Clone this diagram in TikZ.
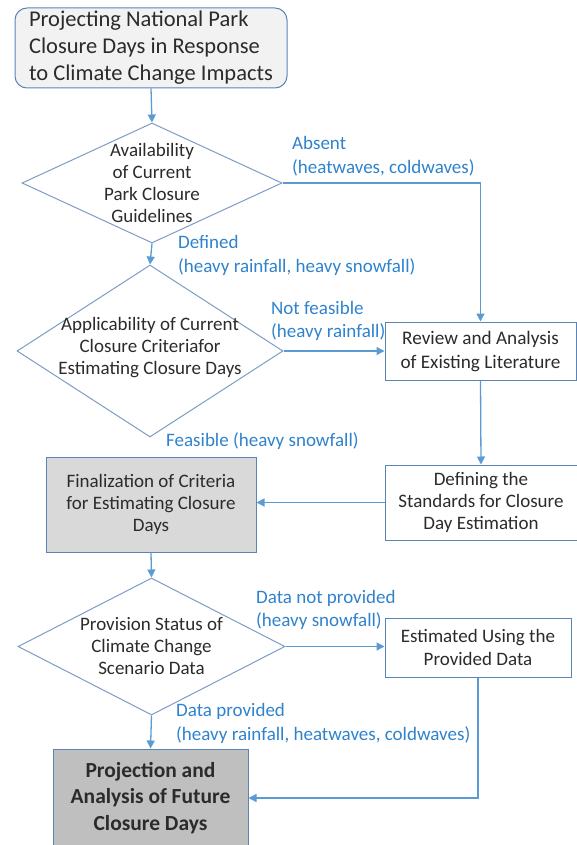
\documentclass[tikz,border=0pt]{standalone}
\usepackage{fontspec}
\setmainfont{Carlito}
\usetikzlibrary{shapes.geometric,arrows.meta}
\definecolor{lineblue}{HTML}{5B9BD5}
\definecolor{edgeblue}{HTML}{5A84B8}
\definecolor{dedge}{HTML}{7E9DC6}
\definecolor{lblblue}{HTML}{2F82CC}
\definecolor{txt}{HTML}{2B2B2B}
\definecolor{titlefill}{HTML}{F2F2F2}
\definecolor{finfill}{HTML}{D9D9D9}
\definecolor{projfill}{HTML}{BFBFBF}
\tikzset{
  conn/.style={draw=lineblue, line width=1.3pt, -{Triangle[length=8pt,width=8pt]}},
  box/.style={draw=edgeblue, line width=1pt, inner sep=0pt, text=txt, align=center,
    font=\fontsize{19}{22}\selectfont},
  dia/.style={diamond, draw=dedge, line width=1pt, inner sep=0pt, fill=white},
  dtext/.style={text=txt, align=center, font=\fontsize{19}{22}\selectfont, inner sep=0pt},
  lbl/.style={text=lblblue, align=left, anchor=west, inner sep=0pt,
    font=\fontsize{19}{23.5}\selectfont}
}
\begin{document}
\begin{tikzpicture}[x=1pt,y=-1pt]
\useasboundingbox (0,0) rectangle (577,845);
\begin{scope}
\clip (0,0) rectangle (577,845);
% title
\node[box, draw=edgeblue, fill=titlefill, rounded corners=12pt, minimum width=272pt, minimum height=80pt,
  align=left, font=\fontsize{22.5}{27}\selectfont] (title) at (151,48)
  {Projecting National Park\\Closure Days in Response\\to Climate Change Impacts};
% diamonds
\node[dia, minimum width=260pt, minimum height=120pt] (d1) at (152,183) {};
\node[dtext] (d1t) at (d1) {Availability\\of Current\\Park Closure\\Guidelines};
\node[dia, minimum width=266pt, minimum height=172pt] (d2) at (150,351) {};
\node[dtext] (d2t) at (150,348) {Applicability of Current\\Closure Criteriafor\\Estimating Closure Days};
\node[dia, minimum width=267pt, minimum height=137pt] (d3) at (151.5,646.5) {};
\node[dtext] (d3t) at (d3) {Provision Status of\\Climate Change\\Scenario Data};
% boxes
\node[box, minimum width=191pt, minimum height=58pt, font=\fontsize{19.2}{24}\selectfont] (rev) at (480.5,351)
  {Review and Analysis\\of Existing Literature};
\node[box, minimum width=192pt, minimum height=75pt] (def) at (481,502.5)
  {Defining the\\Standards for Closure\\Day Estimation};
\node[box, fill=finfill, minimum width=210pt, minimum height=95pt] (fin) at (151,504.5)
  {Finalization of Criteria\\for Estimating Closure\\Days};
\node[box, minimum width=186pt, minimum height=59pt, font=\fontsize{19}{23}\selectfont] (est) at (478,647.5)
  {Estimated Using the\\Provided Data};
\node[box, fill=projfill, minimum width=195pt, minimum height=98pt,
  font=\fontsize{21.5}{26.5}\selectfont\bfseries] (proj) at (150.5,798)
  {Projection and\\Analysis of Future\\Closure Days};
% connectors
\draw[conn] (title.south) -- (d1.north);
\draw[conn] (d1.east) -| (rev.north);
\draw[conn] (d1.south) -- (d2.north);
\draw[conn] (d2.east) -- (rev.west);
\draw[conn] (rev.south) -- (def.north);
\draw[conn] (def.west) -- (def.west -| fin.east);
\draw[conn] (fin.south) -- (d3.north);
\draw[conn] (d3.east) -- (d3.east -| est.west);
\draw[conn] (est.south) |- (proj.east);
\draw[conn] (d3.south) -- (proj.north);
% labels
\node[lbl] (l1) at (292,156) {Absent\\(heatwaves, coldwaves)};
\node[lbl] (l2) at (178,255.5) {Defined\\(heavy rainfall, heavy snowfall)};
\node[lbl] (l3) at (271,321) {Not feasible\\(heavy rainfall)};
\node[lbl] (l4) at (166,441) {Feasible (heavy snowfall)};
\node[lbl] (l5) at (256,610) {Data not provided\\(heavy snowfall)};
\node[lbl] (l6) at (176,723.5) {Data provided\\(heavy rainfall, heatwaves, coldwaves)};
\end{scope}
\end{tikzpicture}
\end{document}
